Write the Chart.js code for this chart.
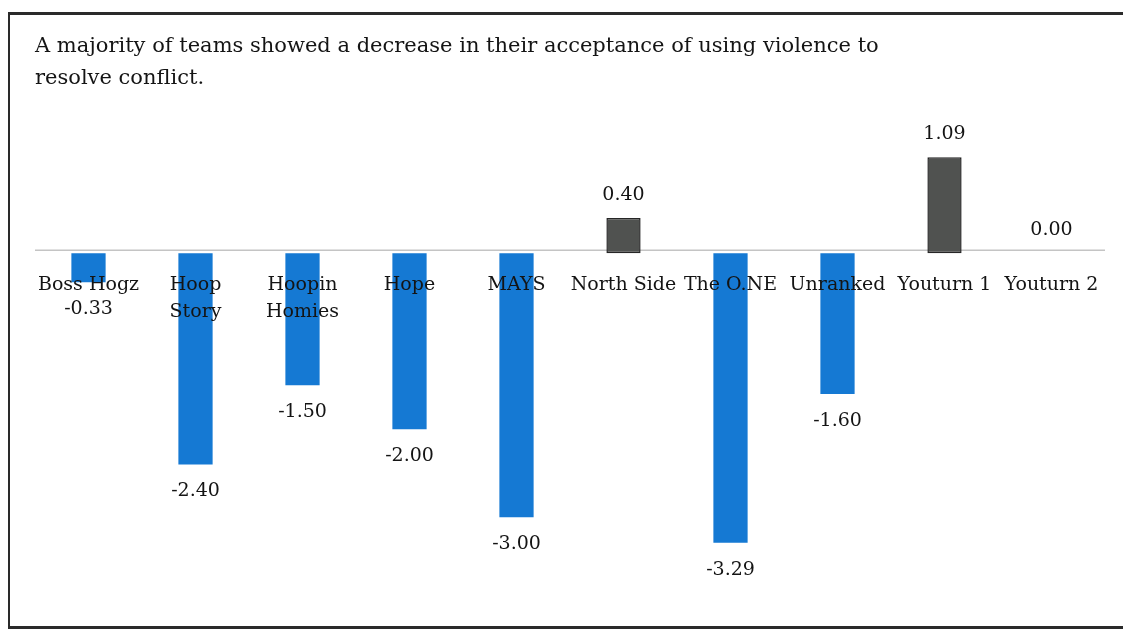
<!DOCTYPE html>
<html>
<head>
<meta charset="utf-8">
<script src="https://cdn.jsdelivr.net/npm/chart.js@4.4.1/dist/chart.umd.min.js"></script>
<style>
  html, body { margin: 0; padding: 0; background: #fff; }
  #wrap { position: relative; width: 1123px; height: 635px; overflow: hidden; }
  #frame {
    position: absolute; left: 8px; top: 12px; width: 1200px; height: 617px;
    border-left: 2px solid #2a2a2a; border-top: 3px solid #2a2a2a; border-bottom: 3px solid #2a2a2a;
    box-sizing: border-box;
  }
  canvas { position: absolute; left: 0; top: 0; }
</style>
</head>
<body>
<div id="wrap">
  <div id="frame"></div>
  <canvas id="chart" width="1123" height="635"></canvas>
</div>
<script>
// Team names (multi-line where the original wraps)
const teams = [
    ['Boss Hogz'], ['Hoop', 'Story'], ['Hoopin', 'Homies'], ['Hope'], ['MAYS'],
    ['North Side'], ['The O.NE'], ['Unranked'], ['Youturn 1'], ['Youturn 2']
];
// Change in acceptance of using violence to resolve conflict
const changes = [-0.33, -2.40, -1.50, -2.00, -3.00, 0.40, -3.29, -1.60, 1.09, 0.00];
const titleLines = [
    'A majority of teams showed a decrease in their acceptance of using violence to',
    'resolve conflict.'
];

const FONT = '"DejaVu Serif", "Liberation Serif", serif';
const BLUE = '#1579d3';
const GREY = '#505250';

// zero line, category names and value labels are drawn by hand like the Excel original
const labelsPlugin = {
    id: 'excelLabels',
    beforeDatasetsDraw(chart) {
        const { ctx, chartArea, scales } = chart;
        const y0 = scales.y.getPixelForValue(0);
        ctx.save();
        ctx.strokeStyle = '#c4c4c4';
        ctx.lineWidth = 1.5;
        ctx.beginPath();
        ctx.moveTo(chartArea.left, y0 - 3);
        ctx.lineTo(chartArea.right, y0 - 3);
        ctx.stroke();
        ctx.restore();
    },
    afterDatasetsDraw(chart) {
        const { ctx, scales } = chart;
        const meta = chart.getDatasetMeta(0);
        const y0 = scales.y.getPixelForValue(0);
        ctx.save();
        ctx.fillStyle = '#141414';
        ctx.textBaseline = 'middle';

        // title
        ctx.textAlign = 'left';
        ctx.font = '21px ' + FONT;
        titleLines.forEach((line, i) => ctx.fillText(line, 35, 47 + i * 32));

        ctx.textAlign = 'center';
        ctx.font = '19px ' + FONT;
        teams.forEach((lines, i) => {
            const x = scales.x.getPixelForValue(i);
            lines.forEach((t, j) => ctx.fillText(t, x, y0 + 32 + j * 27));
        });

        meta.data.forEach((bar, i) => {
            const v = changes[i];
            const y = v < 0 ? bar.y + 27 : bar.y - 23;
            ctx.fillText(v.toFixed(2), bar.x, y);
        });
        ctx.restore();
    }
};

new Chart(document.getElementById('chart'), {
    type: 'bar',
    data: {
        labels: teams,
        datasets: [{
            data: changes,
            backgroundColor: changes.map(v => v < 0 ? BLUE : GREY),
            borderColor: changes.map(v => v < 0 ? BLUE : '#262626'),
            borderWidth: changes.map(v => v < 0 ? 0 : 1.5),
            borderSkipped: false,
            barPercentage: 0.32,
            categoryPercentage: 1
        }]
    },
    options: {
        responsive: false,
        animation: false,
        layout: { padding: { top: 130, bottom: 65, left: 35, right: 18 } },
        plugins: { legend: { display: false }, tooltip: { enabled: false } },
        scales: {
            x: { display: false },
            y: { display: false, min: -3.6, max: 1.4 }
        }
    },
    plugins: [labelsPlugin]
});
</script>
</body>
</html>
